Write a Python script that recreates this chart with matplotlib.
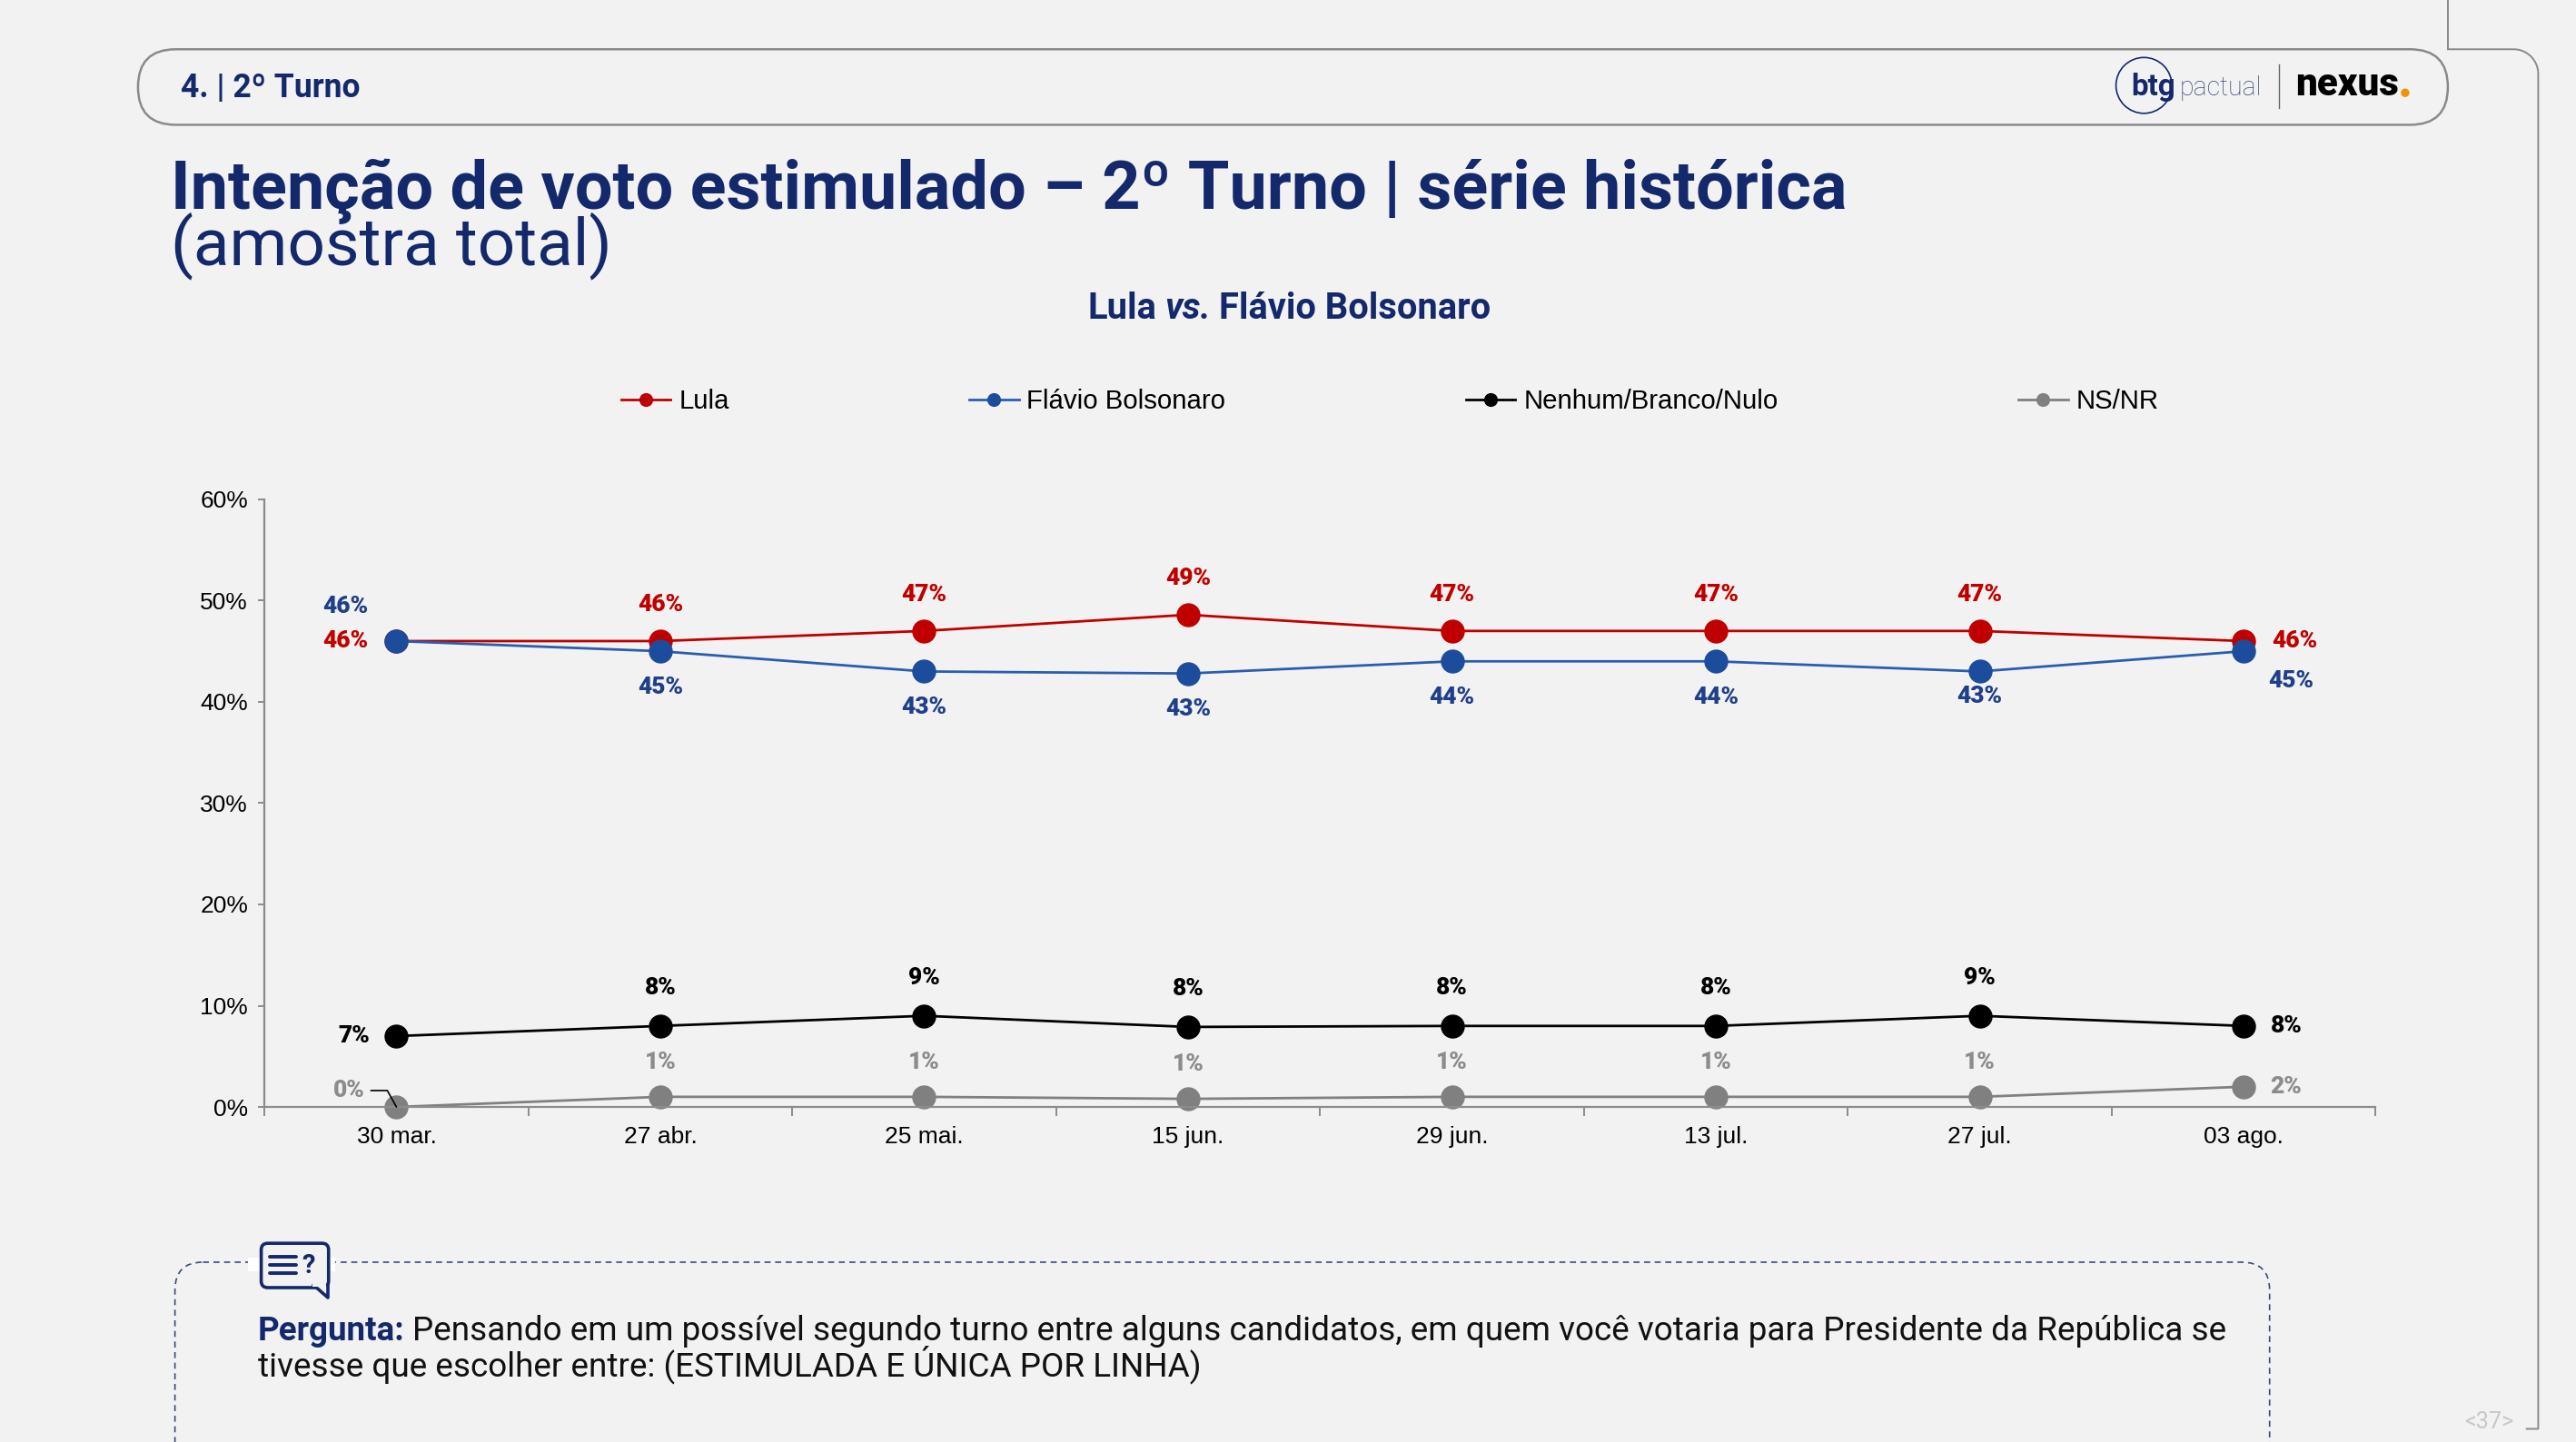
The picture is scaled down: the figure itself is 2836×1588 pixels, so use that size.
import numpy as np
import matplotlib
matplotlib.use("Agg")
import matplotlib.pyplot as plt
from matplotlib.patches import FancyBboxPatch, Circle, Rectangle, Polygon

# survey data
dates = ["30 mar.", "27 abr.", "25 mai.", "15 jun.", "29 jun.", "13 jul.", "27 jul.", "03 ago."]
lula = [46, 46, 47, 48.6, 47, 47, 47, 46]
flavio = [46, 45, 43, 42.8, 44, 44, 43, 45]
nenhum = [7, 8, 9, 7.9, 8, 8, 9, 8]
nsnr = [0, 1, 1, 0.8, 1, 1, 1, 2]
series_names = ["Lula", "Flávio Bolsonaro", "Nenhum/Branco/Nulo", "NS/NR"]
yticks = [0, 10, 20, 30, 40, 50, 60]

NAVY = "#14296b"
BG = "#f2f2f2"
HEAD = "Roboto"
W, H = 1568, 878          # layout grid (reference screen units)
S = 2836 / W              # grid unit -> output pixel

fig = plt.figure(figsize=(28.36, 15.88), dpi=100, facecolor=BG)
renderer = fig.canvas.get_renderer()

bg = fig.add_axes([0, 0, 1, 1])
bg.set_xlim(0, W)
bg.set_ylim(H, 0)
bg.axis("off")
bg.set_zorder(0)


def put(x, y, s, width=None, size=20, **kw):
    t = bg.text(x, y, s, fontsize=size, **kw)
    if width:
        w = t.get_window_extent(renderer).width / S
        t.set_fontsize(size * width / w)
    return t


def wid(t):
    return t.get_window_extent(renderer).width / S


# ---- header bar and page frame
bg.add_patch(FancyBboxPatch((84, 30), 1406, 46, boxstyle="round,pad=0,rounding_size=23",
                            fc="none", ec="#8a8a8a", lw=1.8))
bg.plot([1490, 1490], [0, 30], color="#8a8a8a", lw=1.4)
t = np.linspace(-np.pi / 2, 0, 20)
fx = np.concatenate([[1490], 1530 + 15 * np.cos(t), [1545, 1538]])
fy = np.concatenate([[30], 45 + 15 * np.sin(t), [870, 870]])
bg.plot(fx, fy, color="#8a8a8a", lw=1.4)

put(110, 59, "4. | 2º Turno", width=109, family=HEAD, weight="bold", color=NAVY, va="baseline")

# logo
bg.add_patch(Circle((1305, 52), 17, fc="none", ec=NAVY, lw=1.2))
put(1297, 58, "btg", width=27, family=HEAD, weight="bold", color=NAVY, va="baseline")
put(1327, 58, "pactual", width=50, family=HEAD, weight="light", color="#3a4a80", va="baseline")
bg.plot([1387, 1387], [39, 66], color="#666666", lw=1)
put(1397, 58, "nexus", width=63, family=HEAD, weight="heavy", color="black", va="baseline")
bg.add_patch(Circle((1464, 56.5), 2.6, fc="#f39200", ec="none"))

# ---- titles
put(104, 127, "Intenção de voto estimulado – 2º Turno | série histórica", width=1018,
    family=HEAD, weight="bold", color=NAVY, va="baseline")
put(104, 161, "(amostra total)", width=268, family=HEAD, color=NAVY, va="baseline")

parts = [("Lula", "normal"), ("vs.", "italic"), ("Flávio Bolsonaro", "normal")]
size0 = 20
probe = [put(0, 0, p, size=size0, family=HEAD, weight="bold", style=st) for p, st in parts]
scale = (245 - 10) / sum(wid(p) for p in probe)
for p in probe:
    p.remove()
x0 = 662
for txt, style in parts:
    tt = put(x0, 194, txt, size=size0 * scale, family=HEAD, weight="bold", style=style,
             color=NAVY, va="baseline")
    x0 += wid(tt) + 5

# ---- chart
ax = fig.add_axes([161 / W, 1 - 674 / H, (1446 - 161) / W, (674 - 304) / H])
ax.set_zorder(1)
ax.patch.set_visible(False)

x = np.arange(len(dates))
specs = [
    (lula, "#c00000", "#c00000", "#c00000"),
    (flavio, "#2a5db0", "#1c4c9c", "#1f3f8a"),
    (nenhum, "black", "black", "black"),
    (nsnr, "#808080", "#808080", "#8c8c8c"),
]
handles = []
for (vals, lc, mc, tc), name in zip(specs, series_names):
    h, = ax.plot(x, vals, color=lc, lw=2, marker="o", ms=18, mfc=mc, mec=mc, label=name, clip_on=False)
    handles.append(h)

# label offsets (grid units, right/up positive): default per series, plus end points
offsets = [
    [(-31, 0)] + [(0, 22)] * 6 + [(31, 0)],
    [(-31, 21)] + [(0, -22)] * 5 + [(0, -15), (29, -18)],
    [(-26, 0)] + [(0, 23)] * 6 + [(26, 0)],
    [None] + [(0, 21)] * 6 + [(26, 0)],
]
for (vals, lc, mc, tc), offs in zip(specs, offsets):
    for i, v in enumerate(vals):
        if offs[i] is None:
            continue
        dx, dy = offs[i]
        ax.annotate(f"{round(v)}%", (i, v), xytext=(dx * S, dy * S), textcoords="offset pixels",
                    ha="center", va="center", fontsize=19, family=HEAD, weight=900, color=tc)

ax.annotate("0%", (0, nsnr[0]), xytext=(-29 * S, 10 * S), textcoords="offset pixels",
            ha="center", va="center", fontsize=19, family=HEAD, weight=900, color="#8c8c8c",
            arrowprops=dict(arrowstyle="-", color="black", lw=1.2, shrinkA=3, shrinkB=0,
                            relpos=(1, 0.5), connectionstyle="angle,angleA=0,angleB=119,rad=0"))

ax.set_xlim(-0.5, len(dates) - 0.5)
ax.set_ylim(0, 60)
ax.set_yticks(yticks)
ax.set_yticklabels([f"{v}%" for v in yticks])
ax.set_xticks(x)
ax.set_xticklabels(dates)
ax.set_xticks(np.arange(-0.5, len(dates)), minor=True)
for side in ["top", "right"]:
    ax.spines[side].set_visible(False)
for side in ["left", "bottom"]:
    ax.spines[side].set_color("#8c8c8c")
    ax.spines[side].set_linewidth(1.6)
ax.tick_params(axis="x", which="major", length=0, pad=15, labelsize=19, colors="black")
ax.tick_params(axis="x", which="minor", length=7, width=1.4, color="#8c8c8c")
ax.tick_params(axis="y", length=5, width=1.4, color="#8c8c8c", pad=8, labelsize=19, labelcolor="black")
for lab in ax.get_xticklabels() + ax.get_yticklabels():
    lab.set_family("Liberation Sans")

fig.legend(handles, series_names, loc="center left", bbox_to_anchor=(378 / W, 1 - 244.5 / H),
           ncol=4, frameon=False, prop={"family": "Liberation Sans", "size": 21.15},
           columnspacing=9.0, handlelength=1.86, handletextpad=0.3, borderpad=0,
           borderaxespad=0, markerscale=0.55)

# ---- question box
bg.add_patch(FancyBboxPatch((106.5, 768.5), 1275, 140, boxstyle="round,pad=0,rounding_size=17",
                            fc="none", ec="#3a4a7a", lw=1.2, ls=(0, (4, 3)), clip_on=True))
bg.add_patch(Rectangle((151, 766), 53, 8, fc="white", ec="none", zorder=3))
bg.add_patch(FancyBboxPatch((159, 757), 41, 27, boxstyle="round,pad=0,rounding_size=4",
                            fc=BG, ec=NAVY, lw=2.6, zorder=4))
bg.add_patch(Polygon([[191, 782.5], [199.5, 782.5], [199.5, 790]], closed=True,
                     fc=BG, ec=NAVY, lw=2.6, joinstyle="round", zorder=4))
bg.add_patch(Rectangle((190, 780), 8.5, 3.2, fc=BG, ec="none", zorder=5))
for yy in [765, 770, 775]:
    bg.plot([164, 180], [yy, yy], color=NAVY, lw=2.8, solid_capstyle="round", zorder=5)
put(188, 771, "?", size=21, family=HEAD, weight="bold", color=NAVY, ha="center", va="center", zorder=5)

line1 = "Pensando em um possível segundo turno entre alguns candidatos, em quem você votaria para Presidente da República se"
line2 = "tivesse que escolher entre: (ESTIMULADA E ÚNICA POR LINHA)"
lab = put(157, 816, "Pergunta:", width=89, family=HEAD, weight="bold", color=NAVY, va="baseline")
body1 = put(251, 816, line1, width=1352 - 251, family=HEAD, color="#111111", va="baseline")
put(157, 838, line2, size=body1.get_fontsize(), family=HEAD, color="#111111", va="baseline")

put(1515, 866, "<37>", width=30, family=HEAD, color="#c8c8c8", ha="center", va="center")

fig.savefig("out.png", dpi=100, facecolor=BG)
